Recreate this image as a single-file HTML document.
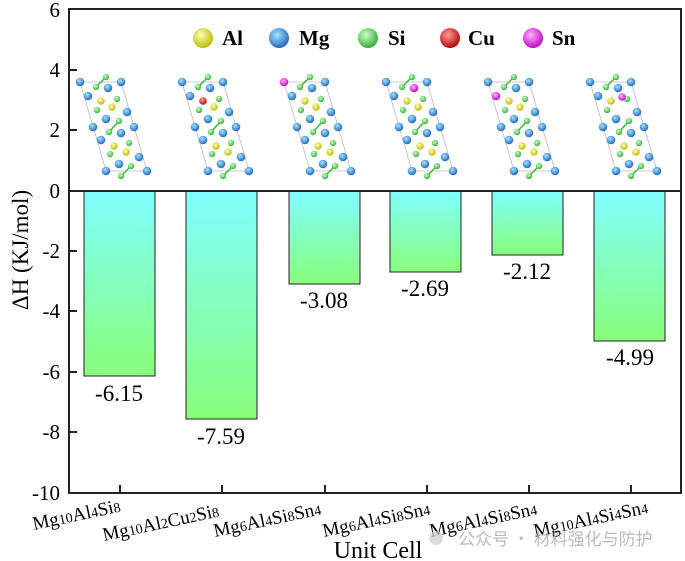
<!DOCTYPE html>
<html><head><meta charset="utf-8"><style>
body{margin:0;background:#fff}
svg{display:block;font-family:"Liberation Serif",serif}
</style></head><body>
<svg width="685" height="561" viewBox="0 0 685 561" xmlns="http://www.w3.org/2000/svg">
<defs>
<linearGradient id="g" x1="0" y1="0" x2="0" y2="1">
<stop offset="0" stop-color="#80ffff"/><stop offset="1" stop-color="#88ff7a"/></linearGradient>
<radialGradient id="cy" cx="0.4" cy="0.35" r="0.7"><stop offset="0" stop-color="#ffffb0"/><stop offset="1" stop-color="#b8b800"/></radialGradient>
<radialGradient id="cb" cx="0.4" cy="0.35" r="0.7"><stop offset="0" stop-color="#9fe4ff"/><stop offset="1" stop-color="#1d5fb8"/></radialGradient>
<radialGradient id="cg" cx="0.4" cy="0.35" r="0.7"><stop offset="0" stop-color="#c8ffc8"/><stop offset="1" stop-color="#2faa2f"/></radialGradient>
<radialGradient id="cr" cx="0.4" cy="0.35" r="0.7"><stop offset="0" stop-color="#ff9a9a"/><stop offset="1" stop-color="#b00000"/></radialGradient>
<radialGradient id="cm" cx="0.4" cy="0.35" r="0.7"><stop offset="0" stop-color="#ffb0ff"/><stop offset="1" stop-color="#c000c0"/></radialGradient>
<g id="base">
<polygon points="80,82 121,82 147,171 106,171" fill="none" stroke="#bbb" stroke-width="0.8"/>
<g stroke="#3bb53b" stroke-width="1.5"><line x1="106" y1="77" x2="96" y2="87"/><line x1="119" y1="121" x2="109" y2="132"/><line x1="131" y1="166" x2="121" y2="176"/></g>
<g fill="url(#cb)"><circle cx="121" cy="82" r="4.3"/><circle cx="127" cy="112" r="4.3"/><circle cx="106" cy="119" r="4.3"/><circle cx="93" cy="127" r="4.3"/><circle cx="134" cy="127" r="4.3"/><circle cx="121" cy="133" r="4.3"/><circle cx="101" cy="140" r="4.3"/><circle cx="139" cy="157" r="4.3"/><circle cx="119" cy="164" r="4.3"/><circle cx="106" cy="171" r="4.3"/><circle cx="147" cy="171" r="4.3"/></g>
<g fill="url(#cg)"><circle cx="106" cy="77" r="3.2"/><circle cx="96" cy="87" r="3.2"/><circle cx="117" cy="99" r="3.2"/><circle cx="97" cy="110" r="3.2"/><circle cx="119" cy="121" r="3.2"/><circle cx="109" cy="132" r="3.2"/><circle cx="129" cy="143" r="3.2"/><circle cx="110" cy="154" r="3.2"/><circle cx="131" cy="166" r="3.2"/><circle cx="121" cy="176" r="3.2"/></g>
<g fill="url(#cy)"><circle cx="114" cy="146" r="3.8"/><circle cx="126" cy="152" r="3.8"/></g>
</g>
</defs>
<g><use href="#base"/><circle cx="80" cy="82" r="4.3" fill="url(#cb)"/><circle cx="108" cy="88" r="4.3" fill="url(#cb)"/><circle cx="88" cy="96" r="4.3" fill="url(#cb)"/><circle cx="101" cy="101" r="3.8" fill="url(#cy)"/><circle cx="112" cy="107" r="3.8" fill="url(#cy)"/></g>
<g transform="translate(102,0)"><use href="#base"/><circle cx="80" cy="82" r="4.3" fill="url(#cb)"/><circle cx="108" cy="88" r="4.3" fill="url(#cb)"/><circle cx="88" cy="96" r="4.3" fill="url(#cb)"/><circle cx="101" cy="101" r="3.8" fill="url(#cr)"/><circle cx="112" cy="107" r="3.8" fill="url(#cy)"/></g>
<g transform="translate(204,0)"><use href="#base"/><circle cx="80" cy="82" r="4.3" fill="url(#cm)"/><circle cx="108" cy="88" r="4.3" fill="url(#cb)"/><circle cx="88" cy="96" r="4.3" fill="url(#cb)"/><circle cx="101" cy="101" r="3.8" fill="url(#cy)"/><circle cx="112" cy="107" r="3.8" fill="url(#cy)"/></g>
<g transform="translate(306,0)"><use href="#base"/><circle cx="80" cy="82" r="4.3" fill="url(#cb)"/><circle cx="108" cy="88" r="4.3" fill="url(#cm)"/><circle cx="88" cy="96" r="4.3" fill="url(#cb)"/><circle cx="101" cy="101" r="3.8" fill="url(#cy)"/><circle cx="112" cy="107" r="3.8" fill="url(#cy)"/></g>
<g transform="translate(408,0)"><use href="#base"/><circle cx="80" cy="82" r="4.3" fill="url(#cb)"/><circle cx="108" cy="88" r="4.3" fill="url(#cb)"/><circle cx="88" cy="96" r="4.3" fill="url(#cm)"/><circle cx="101" cy="101" r="3.8" fill="url(#cy)"/><circle cx="112" cy="107" r="3.8" fill="url(#cy)"/></g>
<g transform="translate(510,0)"><use href="#base"/><circle cx="80" cy="82" r="4.3" fill="url(#cb)"/><circle cx="108" cy="88" r="4.3" fill="url(#cb)"/><circle cx="88" cy="96" r="4.3" fill="url(#cb)"/><circle cx="101" cy="101" r="3.8" fill="url(#cy)"/><circle cx="112" cy="97" r="3.8" fill="url(#cm)"/></g>
<g font-weight="bold" font-size="21">
<circle cx="203" cy="38" r="10" fill="url(#cy)"/><text x="222" y="45">Al</text>
<circle cx="279" cy="38" r="10" fill="url(#cb)"/><text x="299" y="45">Mg</text>
<circle cx="368" cy="38" r="10" fill="url(#cg)"/><text x="388" y="45">Si</text>
<circle cx="450" cy="38" r="10" fill="url(#cr)"/><text x="468" y="45">Cu</text>
<circle cx="533" cy="38" r="10" fill="url(#cm)"/><text x="552" y="45">Sn</text>
</g>
<g fill="url(#g)" stroke="#222" stroke-width="1">
<rect x="84" y="191" width="71" height="185"/>
<rect x="186" y="191" width="71" height="228"/>
<rect x="289" y="191" width="71" height="93"/>
<rect x="390" y="191" width="71" height="81"/>
<rect x="492" y="191" width="71" height="64"/>
<rect x="594" y="191" width="71" height="150"/>
</g>
<g font-size="23" text-anchor="middle">
<text x="119" y="401">-6.15</text><text x="221" y="444">-7.59</text><text x="324" y="308">-3.08</text>
<text x="425" y="296">-2.69</text><text x="527" y="279">-2.12</text><text x="630" y="365">-4.99</text>
</g>
<rect x="69" y="9" width="612" height="484" fill="none" stroke="#222" stroke-width="2"/>
<line x1="69" y1="191" x2="681" y2="191" stroke="#222" stroke-width="2"/>
<g stroke="#222" stroke-width="2">
<line x1="69" y1="70" x2="77" y2="70"/><line x1="69" y1="130" x2="77" y2="130"/><line x1="69" y1="251" x2="77" y2="251"/><line x1="69" y1="311" x2="77" y2="311"/><line x1="69" y1="372" x2="77" y2="372"/><line x1="69" y1="432" x2="77" y2="432"/>
<line x1="120" y1="493" x2="120" y2="485"/><line x1="222" y1="493" x2="222" y2="485"/><line x1="325" y1="493" x2="325" y2="485"/><line x1="427" y1="493" x2="427" y2="485"/><line x1="529" y1="493" x2="529" y2="485"/><line x1="631" y1="493" x2="631" y2="485"/>
</g>
<g font-size="21" text-anchor="end">
<text x="60" y="17">6</text><text x="60" y="77">4</text><text x="60" y="137">2</text><text x="60" y="198">0</text>
<text x="60" y="258">-2</text><text x="60" y="318">-4</text><text x="60" y="379">-6</text><text x="60" y="439">-8</text><text x="60" y="500">-10</text>
</g>
<text transform="translate(28,250) rotate(-90)" font-size="23" text-anchor="middle">ΔH (KJ/mol)</text>
<g font-size="19">
<text transform="translate(34,530) rotate(-12)">Mg<tspan font-size="14">10</tspan>Al<tspan font-size="14">4</tspan>Si<tspan font-size="14">8</tspan></text>
<text transform="translate(104,541) rotate(-12)">Mg<tspan font-size="14">10</tspan>Al<tspan font-size="14">2</tspan>Cu<tspan font-size="14">2</tspan>Si<tspan font-size="14">8</tspan></text>
<text transform="translate(215,537) rotate(-12)">Mg<tspan font-size="14">6</tspan>Al<tspan font-size="14">4</tspan>Si<tspan font-size="14">8</tspan>Sn<tspan font-size="14">4</tspan></text>
<text transform="translate(324,537) rotate(-12)">Mg<tspan font-size="14">6</tspan>Al<tspan font-size="14">4</tspan>Si<tspan font-size="14">8</tspan>Sn<tspan font-size="14">4</tspan></text>
<text transform="translate(431,537) rotate(-12)">Mg<tspan font-size="14">6</tspan>Al<tspan font-size="14">4</tspan>Si<tspan font-size="14">8</tspan>Sn<tspan font-size="14">4</tspan></text>
<text transform="translate(535,537) rotate(-12)">Mg<tspan font-size="14">10</tspan>Al<tspan font-size="14">4</tspan>Si<tspan font-size="14">4</tspan>Sn<tspan font-size="14">4</tspan></text>
</g>
<text x="378" y="558" font-size="24" text-anchor="middle">Unit Cell</text>
<circle cx="436" cy="538" r="7" fill="#ccc" opacity="0.7"/>
<text x="458" y="545" font-size="17" fill="#aaa" opacity="0.8" font-family="'Noto Sans CJK SC',sans-serif">公众号 · 材料强化与防护</text>
</svg>
</body></html>
